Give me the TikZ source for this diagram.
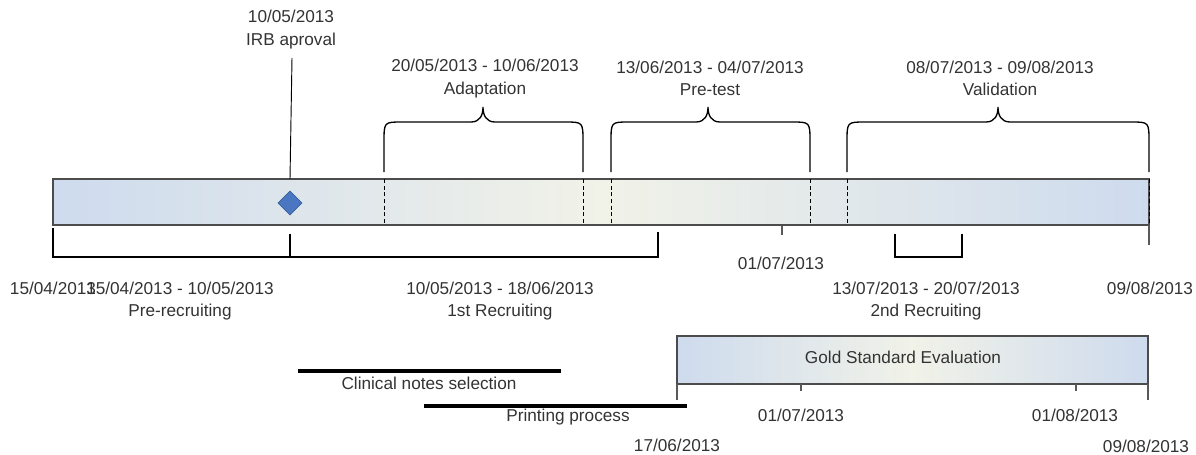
\documentclass[tikz,border=0pt]{standalone}
\usepackage{fontspec}
\setmainfont{Liberation Sans}
\usetikzlibrary{shapes.geometric}
\definecolor{barblue}{RGB}{206,219,238}
\definecolor{barcream}{RGB}{241,242,232}
\definecolor{milefill}{RGB}{74,118,194}
\definecolor{mileedge}{RGB}{46,84,146}

\begin{document}
\begin{tikzpicture}[x=0.75pt, y=-0.75pt,
        every node/.style={font=\fontsize{12.9}{16.9}\selectfont, text=black!80, align=center, inner sep=0pt},
        timebar/.style={draw=black!70, line width=0.8pt, left color=barblue, right color=barblue, middle color=barcream},
        milestone/.style={diamond, draw=mileedge, fill=milefill, minimum width=18pt, minimum height=18pt},
        phasebrace/.style={black, line width=1pt},
        bracketline/.style={black, line width=1.1pt},
        tickline/.style={black!65, line width=0.8pt},
        taskline/.style={black, line width=2.3pt}]
    \useasboundingbox (0,0) rectangle (1196,454);

    \shade[timebar] (53,179) rectangle (1149,225);
    \foreach \x in {384,583,611,810,847,1149}
        \draw[dash pattern=on 3pt off 2pt, line width=0.7pt] (\x,179) -- (\x,225);

    \node[milestone] (irbmark) at (290,203) {};
    \node (irb) at (291,29.5) {10/05/2013\\IRB aproval};
    \coordinate (irbfoot) at (292,58);
    \coordinate (irbtop) at (290,179);
    \draw[line width=0.7pt] (irbfoot) -- (irbtop);

    \foreach \a/\t/\b/\name/\dates/\what in {384/483/583/adapt/20\slash05\slash2013 - 10\slash06\slash2013/Adaptation,
                                  611/708/810/pretest/13\slash06\slash2013 - 04\slash07\slash2013/Pre-test,
                                  847/998/1149/valid/08\slash07\slash2013 - 09\slash08\slash2013/Validation}{
        \draw[phasebrace] (\a,172) -- (\a,142) .. controls (\a,122) .. (\a+18,122) -- (\t-12,122)
            .. controls (\t-3,122) and (\t,115) .. (\t,107) .. controls (\t,115) and (\t+3,122) .. (\t+12,122)
            -- (\b-18,122) .. controls (\b,122) .. (\b,142) -- (\b,172);
        \node (\name) at (\t+2,78.5) {\dates\\\what};
    }

    \draw[bracketline] (53,228) -- (53,257) -- (658,257) -- (658,232);
    \draw[bracketline] (290,234) -- (290,257);
    \draw[bracketline] (895,234) -- (895,257) -- (962,257) -- (962,234);
    \draw[tickline] (782,226) -- (782,235);
    \draw[tickline] (1149,225) -- (1149,245);

    \node (start) at (53,288) {15/04/2013};
    \node (prerec) at (180,301) {15/04/2013 - 10/05/2013\\Pre-recruiting};
    \node (rec1) at (500,301) {10/05/2013 - 18/06/2013\\1st Recruiting};
    \node (julyone) at (781,263) {01/07/2013};
    \node (rec2) at (926,301) {13/07/2013 - 20/07/2013\\2nd Recruiting};
    \node (finish) at (1150,288) {09/08/2013};

    \shade[timebar] (677,336) rectangle (1148,384);
    \node (gold) at (903,357) {Gold Standard Evaluation};
    \draw[tickline] (677,384) -- (677,400);
    \draw[tickline] (801,384) -- (801,391);
    \draw[tickline] (1076,384) -- (1076,391);
    \draw[tickline] (1148,384) -- (1148,400);
    \node (goldjul) at (801,415) {01/07/2013};
    \node (goldaug) at (1075,415) {01/08/2013};
    \node (goldstart) at (677,445) {17/06/2013};
    \node (goldend) at (1146,446) {09/08/2013};

    \draw[taskline] (298,371) -- (561,371);
    \node (notes) at (429,383) {Clinical notes selection};
    \draw[taskline] (424,406) -- (687,406);
    \node (print) at (568,417) {Printing process};
\end{tikzpicture}
\end{document}
